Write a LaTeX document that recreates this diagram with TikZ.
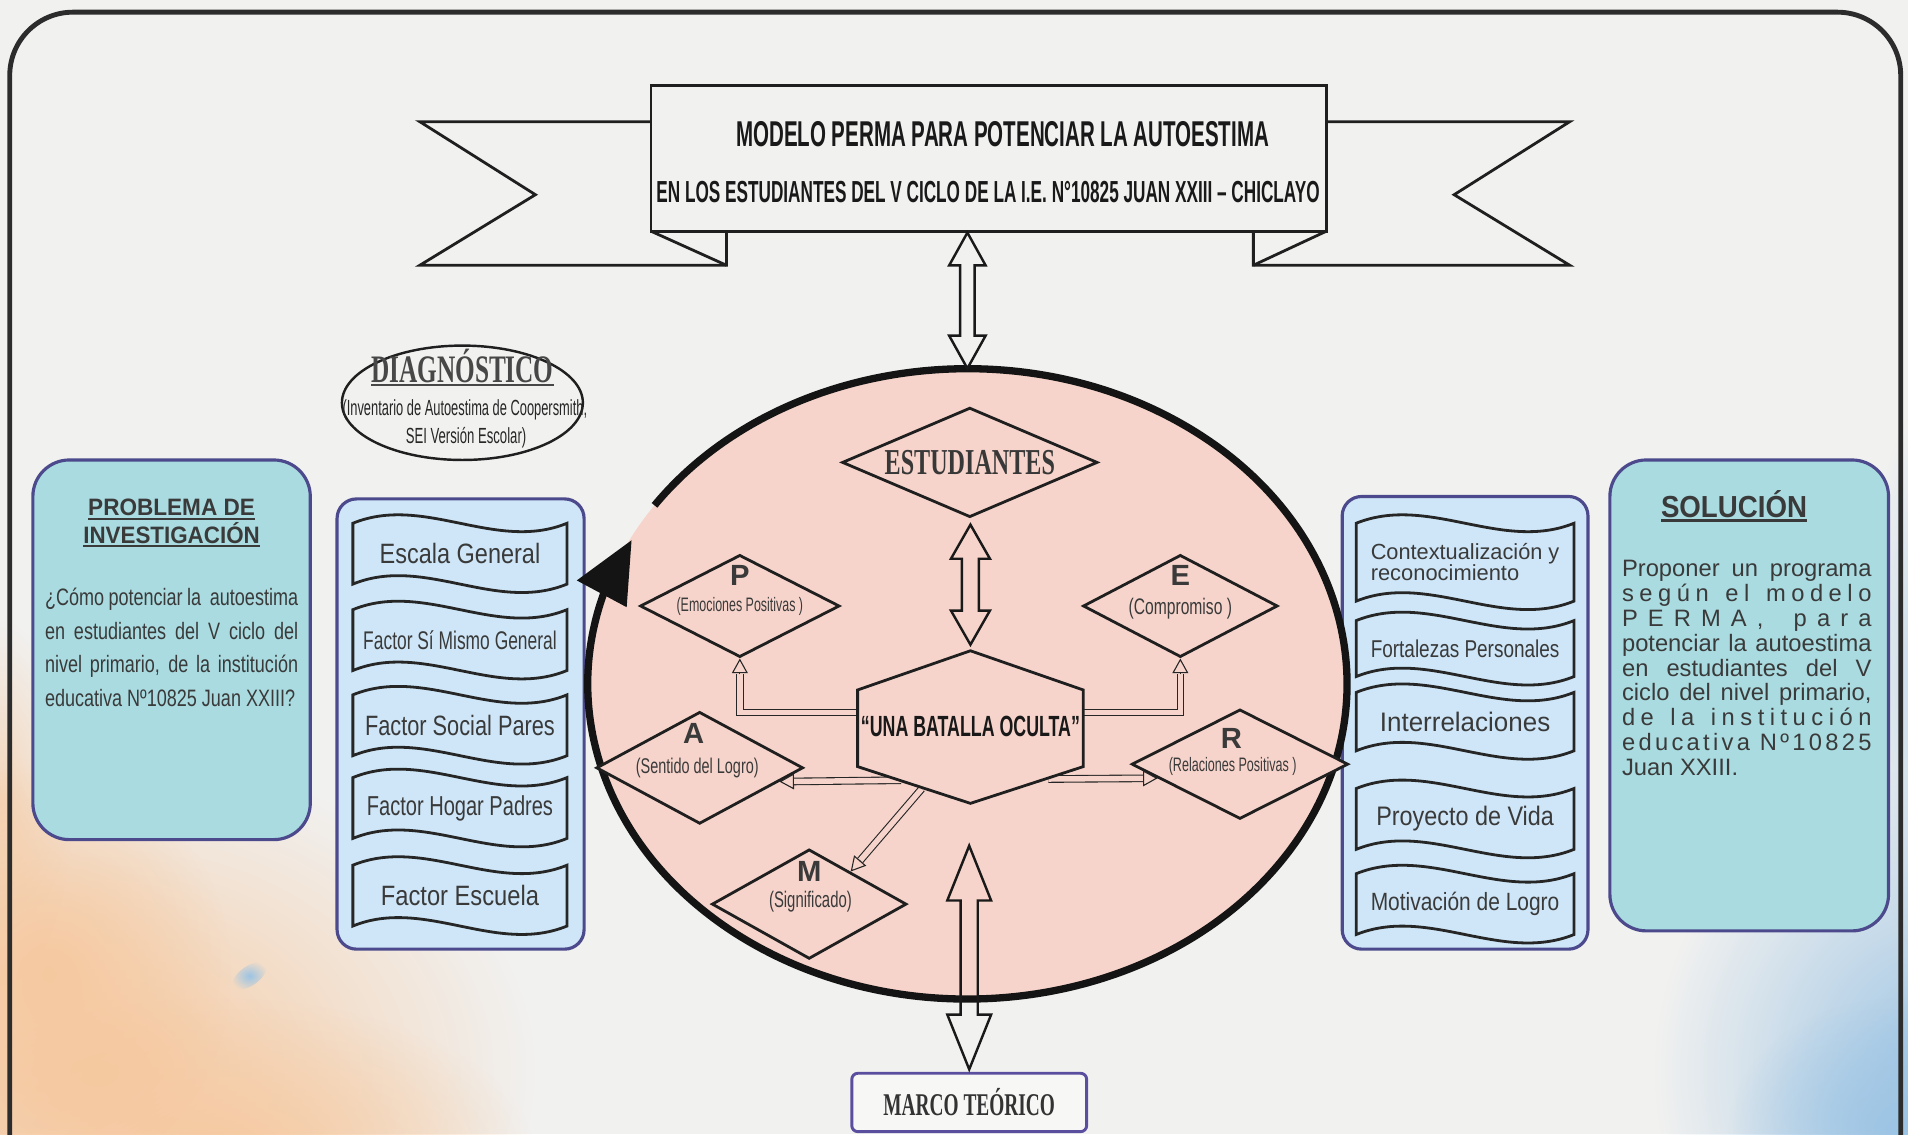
\documentclass[tikz,border=0pt]{standalone}
\usepackage{fontspec}
\usepackage{graphicx}
\usetikzlibrary{shapes.geometric,calc,arrows.meta,fadings}
\setmainfont{Liberation Sans}
\newfontfamily\narrowsans[FakeStretch=0.76]{Liberation Sans}
\newfontfamily\serifface{Liberation Serif}

\definecolor{bgc}{HTML}{F1F1F0}
\definecolor{framec}{HTML}{2C2C2C}
\definecolor{tealc}{HTML}{A9DBE0}
\definecolor{panelc}{HTML}{CEE6F7}
\definecolor{edgec}{HTML}{4C4A8C}
\definecolor{pinkc}{HTML}{F6D4CB}
\definecolor{inkc}{HTML}{3A3A3A}
\definecolor{orangew}{HTML}{F6C9A0}
\definecolor{bluew}{HTML}{9CC4E4}
\definecolor{marcoc}{HTML}{5A4E9E}

\tikzfading[name=blob, inner color=transparent!0, outer color=transparent!100]

% font size helper
\newcommand\fs[2]{\fontsize{#1}{#2}\selectfont}
% stretch or squeeze a line horizontally to a given width (in pt)
\newlength\fitlen
\newcommand\fitw[2]{\settowidth\fitlen{#2}\pgfmathsetmacro\fitsx{#1/\the\fitlen}\scalebox{\fitsx}[1]{#2}}
% heavier underline
\newcommand\ul[2][1.8pt]{\setbox0=\hbox{#2}\rlap{\rule[-3.2pt]{\wd0}{#1}}\box0}

% wavy label box: name, x, y, width, height, text
\newcommand\wavebox[6]{%
  \draw[waveline] ({#2-#4/2},{#3-#5/2}) .. controls ({#2-#4/6},{#3-#5/2-24}) and ({#2+#4/6},{#3-#5/2+24}) .. ({#2+#4/2},{#3-#5/2})
    -- ({#2+#4/2},{#3+#5/2}) .. controls ({#2+#4/6},{#3+#5/2+24}) and ({#2-#4/6},{#3+#5/2-24}) .. ({#2-#4/2},{#3+#5/2}) -- cycle;
  \node[wavetxt] (#1) at (#2,#3) {#6};}

% vertical double-headed block arrow between two points
\newcommand\vdarrow[6][]{\path[#1] let \p1=(#2), \p2=(#3) in
  (\x2,\y1) -- (\x2+#5,\y1-#6) -- (\x2+#4,\y1-#6) -- (\x2+#4,\y2+#6) -- (\x2+#5,\y2+#6) -- (\x2,\y2)
  -- (\x2-#5,\y2+#6) -- (\x2-#4,\y2+#6) -- (\x2-#4,\y1-#6) -- (\x2-#5,\y1-#6) -- cycle;}

\begin{document}
\begin{tikzpicture}[x=1pt,y=-1pt,line join=miter,
  frame/.style={draw=framec,line width=4pt,rounded corners=52pt},
  ink/.style={draw=black!88,line width=2.3pt},
  tealbox/.style={rectangle,draw=edgec,line width=2.6pt,fill=tealc,rounded corners=30pt,inner sep=0pt},
  panelbox/.style={rectangle,draw=edgec,line width=2.6pt,fill=panelc,rounded corners=16pt,inner sep=0pt},
  dia/.style={diamond,draw=black!88,line width=2.3pt,fill=pinkc,inner sep=0pt},
  lbl/.style={inner sep=0pt,text=inkc},
  wavetxt/.style={inner sep=0pt,text=inkc,align=left},
  waveline/.style={draw=black!85,line width=2.3pt},
  hollow/.style={draw=black!85,line width=0.9pt,double=pinkc,double distance=4.5pt},
  headtip/.style={draw=black!85,line width=0.9pt,-{Triangle[length=12pt,width=13pt,fill=pinkc]}},
  bigarrow/.style={draw=black!90,line width=2pt}]

\useasboundingbox (0,0) rectangle (1568,932);
\fill[bgc] (0,0) rectangle (1568,932);

% watercolour washes
\fill[orangew,path fading=blob] (80,880) ellipse [x radius=360, y radius=260];
\fill[orangew,path fading=blob] (180,950) ellipse [x radius=260, y radius=130];
\fill[orangew,path fading=blob] (40,800) ellipse [x radius=150, y radius=170];
\fill[orangew,path fading=blob,fill opacity=0.7] (0,660) ellipse [x radius=60, y radius=150];
\fill[bluew,path fading=blob] (1600,880) ellipse [x radius=240, y radius=250];
\fill[bluew,path fading=blob] (1560,930) ellipse [x radius=140, y radius=110];
\fill[bluew,path fading=blob,fill opacity=0.5] (1575,560) ellipse [x radius=40, y radius=220];
\fill[bluew,path fading=blob,rotate around={35:(205,802)}] (205,802) ellipse [x radius=16, y radius=8];

% outer frame
\draw[frame] (8,10) rectangle (1562,1010);

% title ribbon
\filldraw[ink,fill=bgc] (535,100) -- (345,100) -- (440,160) -- (345,218) -- (597,218) -- (597,190);
\draw[ink] (535,190) -- (597,218);
\filldraw[ink,fill=bgc] (1090,100) -- (1290,100) -- (1195,160) -- (1290,218) -- (1030,218) -- (1030,190);
\draw[ink] (1090,190) -- (1030,218);
\node[rectangle,ink,fill=bgc,minimum width=555,minimum height=120,inner sep=0pt] (banner) at (812.5,130) {};
\node[lbl,text=black!90,font=\bfseries\fs{29.5}{32}] (t1) at (824,110) {\fitw{438}{MODELO PERMA PARA POTENCIAR LA AUTOESTIMA}};
\node[lbl,text=black!90,font=\bfseries\fs{25}{28}] (t2) at (812,158) {\fitw{545}{EN LOS ESTUDIANTES DEL V CICLO DE LA I.E. N°10825 JUAN XXIII – CHICLAYO}};

% diagnosis ellipse
\node[ellipse,draw=black!88,line width=2pt,fill=bgc,minimum width=198,minimum height=94,inner sep=0pt] (diag) at (380,331) {};
\node[lbl,text=black!72,font=\serifface\bfseries\fs{32}{34}] (diagh) at (380,302) {\fitw{150}{\ul[1.8pt]{DIAGNÓSTICO}}};
\node[lbl,text=black!85,font=\narrowsans\fs{18}{23}] (diag1) at (382,337) {\fitw{201}{(Inventario de Autoestima de Coopersmith,}};
\node[lbl,text=black!85,font=\narrowsans\fs{18}{23}] (diag2) at (383,360) {\fitw{99}{SEI Versión Escolar)}};

% research problem
\node[tealbox,minimum width=228,minimum height=312] (prob) at (141,534) {};
\node[lbl,font=\bfseries\fs{19.5}{22.5},align=center] (probh) at (141,430) {\fitw{137}{\ul[1.5pt]{PROBLEMA DE}}\\\fitw{145}{\ul[1.5pt]{INVESTIGACIÓN}}};
\node[lbl,font=\narrowsans\fs{19.5}{27.4},align=left] (probt) at (141,532) {%
  \makebox[208pt][s]{¿Cómo potenciar la\ \ autoestima}\\
  \makebox[208pt][s]{en estudiantes del V ciclo del}\\
  \makebox[208pt][s]{nivel primario, de la institución}\\
  \makebox[208pt][l]{educativa Nº10825 Juan XXIII?}};

% solution
\node[tealbox,minimum width=229,minimum height=387] (sol) at (1437.5,571.5) {};
\node[lbl,font=\bfseries\fs{25}{28}] (solh) at (1425,416) {\fitw{120}{\ul[1.8pt]{SOLUCIÓN}}};
\node[lbl,font=\fs{19.5}{20.4},align=left] (solt) at (1435.5,549) {%
  \makebox[205pt][s]{Proponer un programa}\\
  \makebox[205pt][s]{s\hfil e\hfil g\hfil ú\hfil n\hfil\hfil\hfil e\hfil l\hfil\hfil\hfil m\hfil o\hfil d\hfil e\hfil l\hfil o}\\
  \makebox[205pt][s]{P\hfil E\hfil R\hfil M\hfil A\hfil ,\hfil\hfil\hfil p\hfil a\hfil r\hfil a}\\
  \makebox[205pt][s]{potenciar la autoestima}\\
  \makebox[205pt][s]{en estudiantes del V}\\
  \makebox[205pt][s]{ciclo del nivel primario,}\\
  \makebox[205pt][s]{d\hfil e\hfil\hfil\hfil l\hfil a\hfil\hfil\hfil i\hfil n\hfil s\hfil t\hfil i\hfil t\hfil u\hfil c\hfil i\hfil ó\hfil n}\\
  \makebox[205pt][s]{e\hfil d\hfil u\hfil c\hfil a\hfil t\hfil i\hfil v\hfil a\hfil\hfil\hfil N\hfil º\hfil 1\hfil 0\hfil 8\hfil 2\hfil 5}\\
  \makebox[205pt][l]{Juan XXIII.}};

% side panels with wavy labels
\node[panelbox,minimum width=203,minimum height=370] (lpanel) at (378.5,595) {};
\wavebox{wa}{378}{455}{176}{50}{\fs{23}{24}\fitw{132}{Escala General}}
\wavebox{wb}{378}{526}{176}{50}{\fs{21}{22}\fitw{159}{Factor Sí Mismo General}}
\wavebox{wc}{378}{596}{176}{50}{\fs{23}{24}\fitw{156}{Factor Social Pares}}
\wavebox{wd}{378}{664}{176}{50}{\fs{22.5}{24}\fitw{153}{Factor Hogar Padres}}
\wavebox{we}{378}{736}{176}{50}{\fs{23}{24}\fitw{130}{Factor Escuela}}

\node[panelbox,minimum width=202,minimum height=372] (rpanel) at (1204,594) {};
\wavebox{ra}{1204}{462}{179}{64}{\fs{18}{23}\fitw{155}{Contextualización y}\\\fs{18}{23}\fitw{122}{reconocimiento}}
\wavebox{rb}{1204}{533}{179}{46}{\fs{20}{22}\fitw{155}{Fortalezas Personales}}
\wavebox{rc}{1204}{593}{179}{48}{\fs{22}{24}\fitw{140}{Interrelaciones}}
\wavebox{rd}{1204}{673}{179}{50}{\fs{22}{24}\fitw{146}{Proyecto de Vida}}
\wavebox{re}{1204}{743}{179}{50}{\fs{20.5}{22}\fitw{155}{Motivación de Logro}}

% central ellipse
\node[ellipse,fill=pinkc,minimum width=624,minimum height=518,inner sep=0pt] (ell) at (795,562) {};
\draw[line width=6pt,black!92] ($(ell.center)+(-145.5:312 and 259)$) arc[start angle=-145.5,end angle=197,x radius=312,y radius=259];
\fill[black!92] (474,477) -- (519,444) -- (515,499) -- cycle;

% diamonds
\node[dia,minimum width=210,minimum height=90] (estud) at (797,380) {};
\node[lbl,text=black!78,font=\serifface\bfseries\fs{30}{32}] (estudt) at (797,380) {\fitw{140}{ESTUDIANTES}};
\node[dia,minimum width=164,minimum height=84] (P) at (608,498) {};
\node[dia,minimum width=160,minimum height=84] (E) at (970,498) {};
\node[dia,minimum width=170,minimum height=92] (A) at (575,631) {};
\node[dia,minimum width=178,minimum height=90] (R) at (1019,628) {};
\node[dia,minimum width=160,minimum height=90] (M) at (665,743) {};

\node[lbl,font=\bfseries\fs{24}{26}] (Pl) at (608,473) {P};
\node[lbl,font=\narrowsans\fs{16}{17}] (Pt) at (608,498) {\fitw{104}{(Emociones Positivas )}};
\node[lbl,font=\bfseries\fs{24}{26}] (El) at (970,473) {E};
\node[lbl,font=\narrowsans\fs{18.5}{20}] (Et) at (970,500) {\fitw{85}{(Compromiso )}};
\node[lbl,font=\bfseries\fs{24}{26}] (Al) at (570,603) {A};
\node[lbl,font=\narrowsans\fs{17.5}{20}] (At) at (573,631) {\fitw{101}{(Sentido del Logro)}};
\node[lbl,font=\bfseries\fs{24}{26}] (Rl) at (1012,607) {R};
\node[lbl,font=\narrowsans\fs{16}{17}] (Rt) at (1013,630) {\fitw{105}{(Relaciones Positivas )}};
\node[lbl,font=\bfseries\fs{24}{26}] (Ml) at (665,716) {M};
\node[lbl,font=\narrowsans\fs{18.5}{20}] (Mt) at (666,741) {\fitw{68}{(Significado)}};

% central hexagon
\node[rectangle,minimum width=185,minimum height=125,inner sep=0pt] (hex) at (797.5,597.5) {};

% hollow connectors from the hexagon to the PERMA diamonds
\draw[hollow] ($(hex.west)+(0,-12)$) -| ($(P.south)+(0,13)$);
\draw[headtip] ($(P.south)+(0,13)$) -- (P.south);
\draw[hollow] ($(hex.east)+(0,-12)$) -| ($(E.south)+(0,13)$);
\draw[headtip] ($(E.south)+(0,13)$) -- (E.south);

\coordinate (Astart) at ($(hex.south)+(-57,-19)$);
\coordinate (Atip) at ($(A.east)!0.24!(A.south)$);
\draw[hollow] (Astart) -- ($(Atip)!12pt!(Astart)$);
\draw[headtip] ($(Atip)!12pt!(Astart)$) -- (Atip);
\coordinate (Rstart) at ($(hex.south)+(64,-20)$);
\coordinate (Rtip) at ($(R.west)!0.25!(R.south)$);
\draw[hollow] (Rstart) -- ($(Rtip)!12pt!(Rstart)$);
\draw[headtip] ($(Rtip)!12pt!(Rstart)$) -- (Rtip);
\coordinate (Mstart) at ($(hex.south)+(-40,-12)$);
\coordinate (Mtip) at ($(M.north)!0.42!(M.east)$);
\draw[hollow] (Mstart) -- ($(Mtip)!12pt!(Mstart)$);
\draw[headtip] ($(Mtip)!12pt!(Mstart)$) -- (Mtip);

\filldraw[ink,fill=pinkc] (hex.north) -- ($(hex.east)+(0,-30.5)$) -- ($(hex.east)+(0,32.5)$) -- (hex.south)
  -- ($(hex.west)+(0,32.5)$) -- ($(hex.west)+(0,-30.5)$) -- cycle;
\node[lbl,text=black!90,font=\bfseries\fs{24}{26}] (hext) at (797.5,597) {\fitw{180}{“UNA BATALLA OCULTA”}};

% theoretical framework box
\node[rectangle,draw=marcoc,line width=2.4pt,fill=bgc!60!white,rounded corners=5pt,minimum width=193,minimum height=48,inner sep=0pt] (marco) at (796.5,906) {};
\node[lbl,text=black!80,font=\serifface\bfseries\fs{26}{28}] (marcot) at (796.5,906) {\fitw{141}{MARCO TEÓRICO}};

% block arrows
\vdarrow[bigarrow,fill=bgc]{banner.south}{ell.north}{6pt}{15pt}{27pt}
\vdarrow[bigarrow,fill=pinkc]{[yshift=-5pt]estud.south}{[yshift=5pt]hex.north}{7pt}{16pt}{28pt}
\coordinate (lowstart) at ($(ell.center)+(0,133)$);
\vdarrow[bigarrow]{lowstart}{[yshift=2pt]marco.north}{7pt}{18pt}{45pt}

\end{tikzpicture}
\end{document}
